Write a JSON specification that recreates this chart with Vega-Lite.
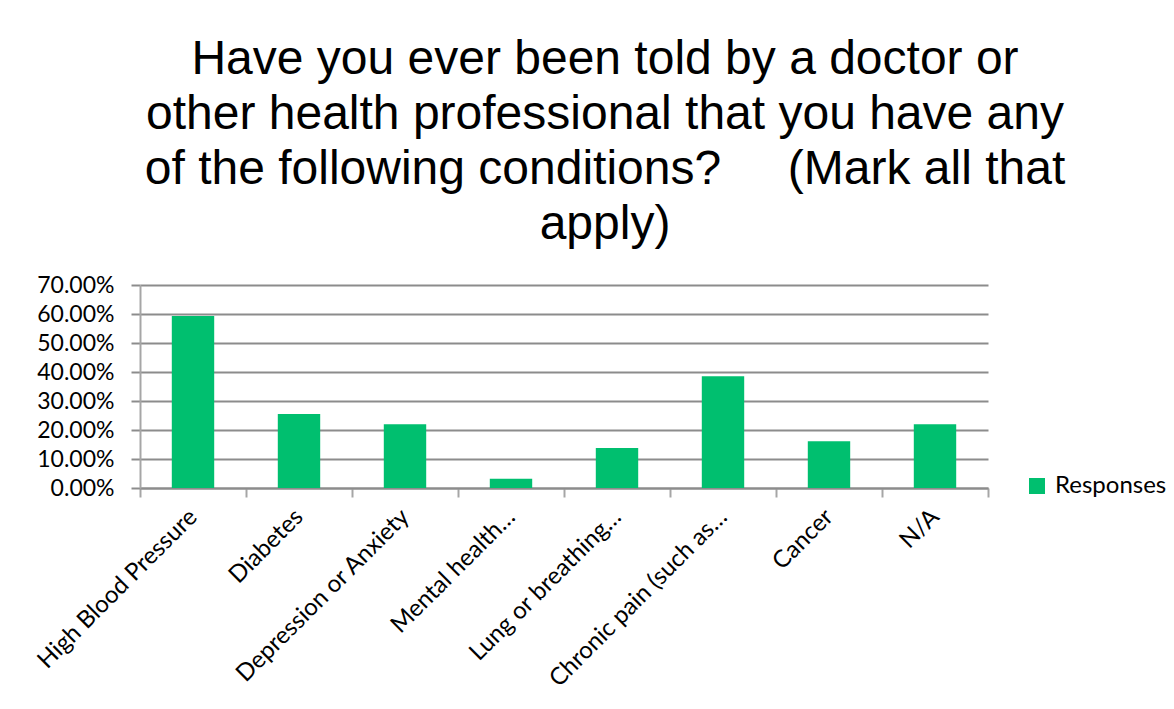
{
  "$schema": "https://vega.github.io/schema/vega-lite/v6.json",
  "autosize": "none",
  "padding": {"left": 140, "top": 285, "right": 186, "bottom": 221},
  "width": 848,
  "height": 203,
  "background": "white",
  "title": {
    "text": ["Have you ever been told by a doctor or", "other health professional that you have any", "of the following conditions?\u00a0\u00a0\u00a0\u00a0 (Mark all that", "apply)"],
    "font": "Liberation Sans",
    "fontSize": 48,
    "fontWeight": "normal",
    "color": "#000000",
    "lineHeight": 55,
    "anchor": "middle",
    "frame": "group",
    "dx": 41,
    "offset": 25
  },
  "data": {
    "values": [
      {"condition": "High Blood Pressure", "share": 0.593, "series": "Responses"},
      {"condition": "Diabetes", "share": 0.255, "series": "Responses"},
      {"condition": "Depression or Anxiety", "share": 0.22, "series": "Responses"},
      {"condition": "Mental health…", "share": 0.032, "series": "Responses"},
      {"condition": "Lung or breathing…", "share": 0.138, "series": "Responses"},
      {"condition": "Chronic pain (such as…", "share": 0.385, "series": "Responses"},
      {"condition": "Cancer", "share": 0.161, "series": "Responses"},
      {"condition": "N/A", "share": 0.22, "series": "Responses"}
    ]
  },
  "config": {
    "view": {"stroke": null},
    "axis": {"labelFont": "Lato", "labelColor": "#000000"}
  },
  "mark": {"type": "bar", "color": "#00BF6F", "width": {"band": 0.4}},
  "encoding": {
    "x": {
      "field": "condition",
      "type": "nominal",
      "sort": null,
      "scale": {"paddingInner": 0, "paddingOuter": 0},
      "axis": {
        "title": null,
        "labelAngle": -45,
        "labelAlign": "right",
        "labelBaseline": "middle",
        "labelFontSize": 24,
        "labelPadding": 16,
        "labelLimit": 0,
        "tickBand": "extent",
        "tickSize": 9,
        "tickColor": "#A6A6A6",
        "tickWidth": 2,
        "domainColor": "#8C8C8C",
        "domainWidth": 2,
        "grid": false
      }
    },
    "y": {
      "field": "share",
      "type": "quantitative",
      "scale": {"domain": [0, 0.7]},
      "axis": {
        "title": null,
        "format": ".2%",
        "values": [0, 0.1, 0.2, 0.3, 0.4, 0.5, 0.6, 0.7],
        "labelFontSize": 23,
        "labelPadding": 17,
        "tickSize": 9,
        "tickColor": "#8C8C8C",
        "tickWidth": 2,
        "domainColor": "#A6A6A6",
        "domainWidth": 2,
        "grid": true,
        "gridColor": "#8C8C8C",
        "gridWidth": 2
      }
    },
    "color": {
      "field": "series",
      "type": "nominal",
      "scale": {"range": ["#00BF6F"]},
      "legend": {
        "title": null,
        "orient": "none",
        "legendX": 885,
        "legendY": 189,
        "symbolType": "square",
        "symbolSize": 256,
        "symbolStrokeWidth": 0,
        "labelFont": "Lato",
        "labelFontSize": 24,
        "labelColor": "#000000",
        "labelOffset": 6
      }
    }
  }
}
